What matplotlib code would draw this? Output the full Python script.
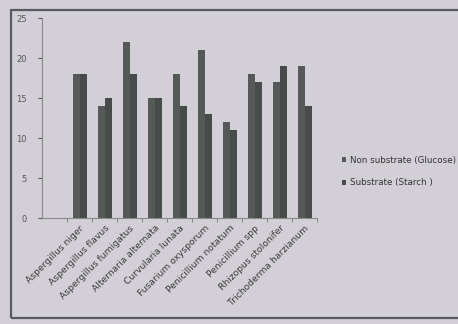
import matplotlib
matplotlib.use("Agg")
import matplotlib.pyplot as plt
import numpy as np
from matplotlib.patches import Rectangle

categories = ["Aspergillus niger", "Aspergillus flavus", "Aspergillus fumigatus",
              "Alternaria alternata", "Curvularia lunata", "Fusarium oxysporum",
              "Penicillium notatum", "Penicillium spp", "Rhizopus stolonifer",
              "Trichoderma harzianum"]
non_substrate = [18, 14, 22, 15, 18, 21, 12, 18, 17, 19]
substrate = [18, 15, 18, 15, 14, 13, 11, 17, 19, 14]
yticks = [0, 5, 10, 15, 20, 25]

bg = "#d3cfd7"
fig = plt.figure(figsize=(4.58, 3.24), dpi=100, facecolor=bg)
W, H = 458, 324
fig.add_artist(Rectangle((11 / W, 1 - 318 / H), 1.2, (318 - 10) / H,
                         transform=fig.transFigure, fill=False,
                         edgecolor="#5a5a5e", linewidth=1.6))

ax = fig.add_axes([42 / W, 1 - 218 / H, (317 - 42) / W, 200 / H])
ax.set_facecolor(bg)
x = np.arange(len(categories))
w = 0.28
ax.bar(x - w / 2, non_substrate, w, color="#555a58", label="Non substrate (Glucose)")
ax.bar(x + w / 2, substrate, w, color="#474c4a", label="Substrate (Starch )")
ax.set_xlim(-1.5, len(categories) - 0.5)
ax.set_ylim(0, 25)
ax.set_yticks(yticks)
ax.set_xticks(np.arange(-1, len(categories)) + 0.5, minor=False)
ax.set_xticklabels([])
ax.set_xticks(x, minor=True)
ax.set_xticklabels(categories, minor=True, rotation=45, ha="right",
                   rotation_mode="anchor", fontsize=6.6, color="#3a3a3a")
ax.tick_params(axis="x", which="minor", length=0, pad=4)
ax.tick_params(axis="x", which="major", length=3, color="#8a8a8a", direction="out")
ax.tick_params(axis="y", labelsize=6, colors="#555555", length=3, direction="out", pad=8)
for s in ["top", "right"]:
    ax.spines[s].set_visible(False)
for s in ["left", "bottom"]:
    ax.spines[s].set_color("#8a8a8a")
    ax.spines[s].set_linewidth(0.8)

fig.legend(loc="upper left", bbox_to_anchor=(334 / W, 1 - 148 / H),
           frameon=False, fontsize=6.3, handlelength=0.5, handleheight=0.5,
           handletextpad=0.4, labelspacing=1.55, labelcolor="#333333")
fig.savefig("out.png", dpi=100, facecolor=bg)
